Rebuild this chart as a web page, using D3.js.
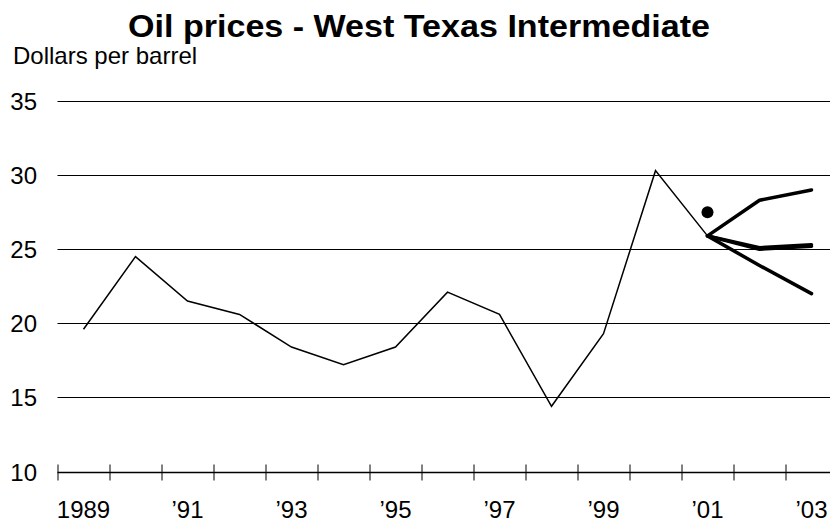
<!DOCTYPE html>
<html>
<head>
<meta charset="utf-8">
<script src="https://cdn.jsdelivr.net/npm/d3@7"></script>
<style>
  body { margin: 0; background: #fff; }
  text { font-family: "Liberation Sans", Arial, sans-serif; fill: #000; }
</style>
</head>
<body>
<svg id="chart" width="830" height="522"></svg>
<script>
// history, annual averages
var years = [1989, 1990, 1991, 1992, 1993, 1994, 1995, 1996, 1997, 1998, 1999, 2000, 2001];
var prices = [19.6, 24.5, 21.5, 20.6, 18.4, 17.2, 18.4, 22.1, 20.6, 14.4, 19.3, 30.3, 25.9];

// forecasts starting from 2001
var fcYears = [2001, 2002, 2003];
var fcHigh = [25.9, 28.3, 29.0];
var fcMidA = [25.9, 25.0, 25.2];
var fcMidB = [25.9, 25.1, 25.3];
var fcLow = [25.9, 23.9, 22.0];

// single point
var dotYear = 2001, dotValue = 27.5;

var yTicks = [10, 15, 20, 25, 30, 35];
var tickYears = d3.range(1988.5, 2003, 1);
var labelYears = [1989, 1991, 1993, 1995, 1997, 1999, 2001, 2003];

var svg = d3.select("#chart");

var x = d3.scaleLinear().domain([1988.5, 2003.5]).range([57.5, 837.5]);
var y = d3.scaleLinear().domain([10, 35]).range([471.5, 101]);

svg.append("text")
    .attr("x", 419).attr("y", 37)
    .attr("text-anchor", "middle")
    .attr("textLength", 582).attr("lengthAdjust", "spacingAndGlyphs")
    .style("font-size", "32px").style("font-weight", "bold")
    .text("Oil prices - West Texas Intermediate");

svg.append("text")
    .attr("x", 13).attr("y", 64)
    .style("font-size", "24px")
    .text("Dollars per barrel");

// gridlines
svg.append("g").selectAll("line")
    .data(yTicks.filter(function (d) { return d > 10; }))
    .join("line")
    .attr("x1", 57.5).attr("x2", 830)
    .attr("y1", function (d) { return Math.round(y(d)) + 0.5; })
    .attr("y2", function (d) { return Math.round(y(d)) + 0.5; })
    .attr("stroke", "#000").attr("stroke-width", 1);

// y labels
svg.append("g").selectAll("text")
    .data(yTicks)
    .join("text")
    .attr("x", 37)
    .attr("y", function (d) { return y(d) + 9; })
    .attr("text-anchor", "end")
    .style("font-size", "24px")
    .text(function (d) { return d; });

// x axis
var xAxis = d3.axisBottom(x).tickValues(tickYears).tickSize(0).tickFormat("");
var xg = svg.append("g")
    .attr("transform", "translate(0," + (Math.round(y(10)) + 0.5) + ")")
    .call(xAxis);
xg.select(".domain").remove();
xg.append("line").attr("x1", 57.5).attr("x2", 830).attr("stroke", "#000").attr("stroke-width", 1.5);
xg.selectAll(".tick").append("line")
    .attr("y1", -8).attr("y2", 8)
    .attr("stroke", "#000");

svg.append("g").selectAll("text")
    .data(labelYears)
    .join("text")
    .attr("x", function (d) { return x(d); })
    .attr("y", 518)
    .attr("text-anchor", "middle")
    .style("font-size", "24px")
    .text(function (d) { return d === 1989 ? "1989" : "\u2019" + String(d).slice(2); });

// lines
var line = d3.line()
    .x(function (d) { return x(d[0]); })
    .y(function (d) { return y(d[1]); });

svg.append("path")
    .datum(d3.zip(years, prices))
    .attr("d", line)
    .attr("fill", "none").attr("stroke", "#000").attr("stroke-width", 1.5)
    .attr("stroke-linejoin", "miter");

[fcHigh, fcMidA, fcMidB, fcLow].forEach(function (s) {
    svg.append("path")
        .datum(d3.zip(fcYears, s))
        .attr("d", line)
        .attr("fill", "none").attr("stroke", "#000").attr("stroke-width", 3.5)
        .attr("stroke-linecap", "round").attr("stroke-linejoin", "round");
});

svg.append("circle")
    .attr("cx", x(dotYear)).attr("cy", y(dotValue)).attr("r", 6)
    .attr("fill", "#000");
</script>
</body>
</html>
